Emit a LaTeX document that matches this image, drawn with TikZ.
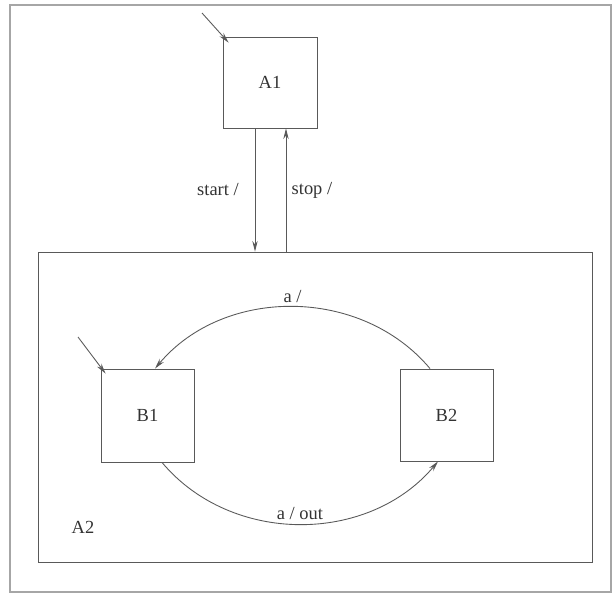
\documentclass[tikz,border=0pt]{standalone}
\usepackage{fontspec}
\setmainfont{Liberation Serif}
\usepackage{tikz}
\usetikzlibrary{arrows.meta,positioning}
\newcommand{\figlbl}{\fontsize{10.5}{12}\selectfont}
\tikzset{
  >={Stealth[length=6pt,width=3pt]},
  st/.style   ={rectangle, draw=black!65, line width=0.5pt, inner sep=0pt,
                font=\figlbl, text=black!80, align=center},
  frm/.style  ={draw=black!35, line width=0.7pt},
  tr/.style   ={->, draw=black!65, line width=0.5pt},
  lbl/.style  ={font=\figlbl, text=black!80, inner sep=2pt},
}

\begin{document}
\begin{tikzpicture}
\useasboundingbox (0,0) rectangle (12.3,11.88);
% ---- outer frame ----------------------------------------------------
\draw[frm] (0.2,0.04) rectangle (12.22,11.78);

% ---- top level states -----------------------------------------------
\node[st, minimum width=1.88cm, minimum height=1.82cm] (A1) at (5.4,10.23) {A1};
\node[st, minimum width=11.08cm, minimum height=6.2cm] (A2) at (6.3,3.74) {};
\node[lbl] (A2name) at (1.66,1.34) {A2};

% ---- substates of A2 ------------------------------------------------
\node[st, minimum width=1.86cm, minimum height=1.86cm] (B1) at (2.95,3.57) {B1};
\node[st, minimum width=1.86cm, minimum height=1.84cm] (B2) at (8.93,3.58) {B2};

% initial markers
\coordinate (A1init) at (4.04,11.62);
\coordinate (B1init) at (1.56,5.14);
\draw[tr] (A1init) -- ([shift={(0.12,-0.12)}]A1.north west);
\draw[tr] (B1init) -- ([shift={(0.1,-0.1)}]B1.north west);

% ---- transitions ----------------------------------------------------
\draw[tr] ([xshift=-0.3cm]A1.south) -- ([xshift=-0.3cm]A1.south |- A2.north)
  node[lbl, midway, left=7pt] {start /};
\draw[tr] ([xshift=0.32cm]A1.south |- A2.north) -- ([xshift=0.32cm]A1.south)
  node[lbl, midway, right=1pt] {stop /};

\draw[tr] ([xshift=-0.33cm]B2.north) to[out=130,in=50]
  node[lbl, midway, above] {a /} ([xshift=0.15cm]B1.north);
\draw[tr] ([xshift=0.29cm]B1.south) to[out=-50,in=-130]
  node[lbl, midway, above] {a / out} ([xshift=-0.17cm]B2.south);
\end{tikzpicture}
\end{document}
